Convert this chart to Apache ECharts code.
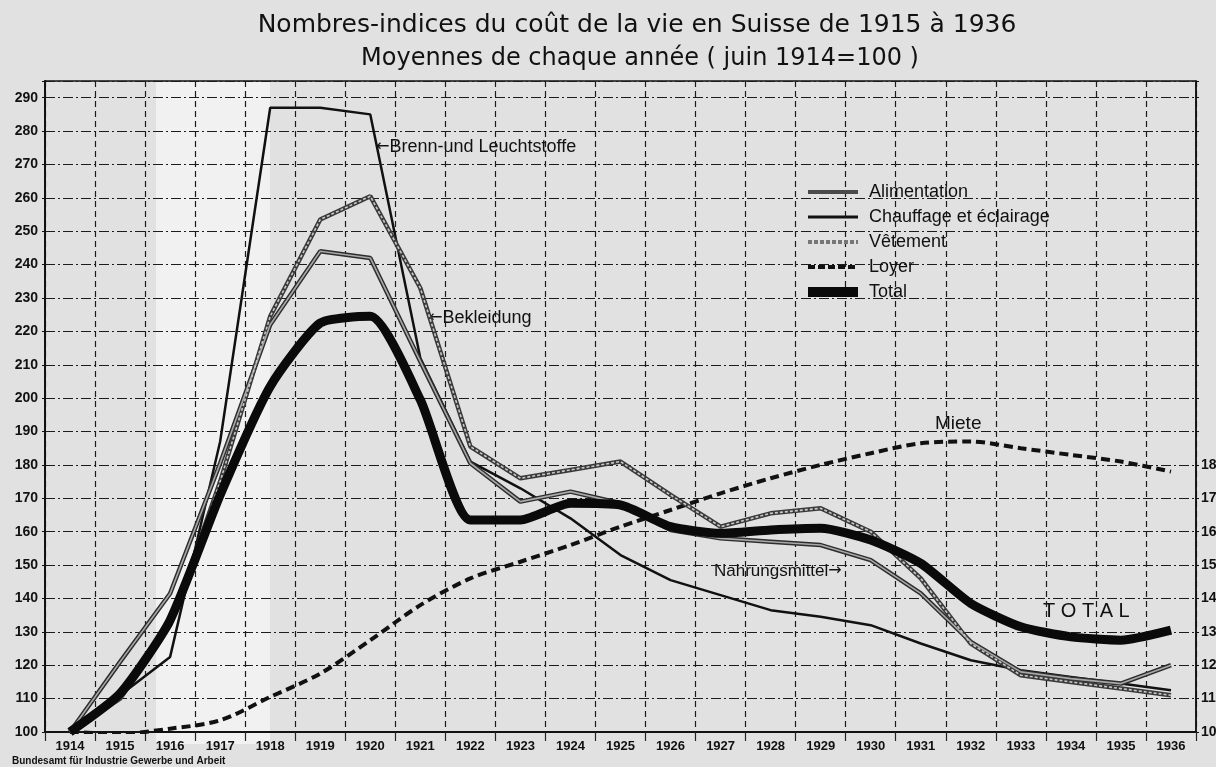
<!DOCTYPE html>
<html>
<head>
<meta charset="utf-8">
<script src="https://cdn.jsdelivr.net/npm/echarts@6/dist/echarts.min.js"></script>
<style>
html,body{margin:0;padding:0;background:#e1e1e1;}
#chart{width:1216px;height:767px;}
</style>
</head>
<body>
<div id="chart"></div>
<script>
// ---- data ----
const years = ['1914','1915','1916','1917','1918','1919','1920','1921','1922','1923','1924','1925','1926','1927','1928','1929','1930','1931','1932','1933','1934','1935','1936'];
const alimentation = [100, 121, 141.5, 180.5, 222, 244, 242, 211, 180.5, 169, 172, 168.5, 160.5, 158, 157, 156, 151.5, 141.5, 127, 118, 116, 114.5, 120];
const chauffage    = [100, 111, 122.5, 187, 287, 287, 285, 212, 181, 173, 164, 153, 145.5, 141, 136.5, 134.5, 132, 126.5, 121.5, 118.5, 116.5, 114.5, 112.5];
const vetement     = [100, 110, 132, 175, 224.5, 253.5, 260.5, 233, 185.5, 176, 178.5, 181, 171, 161.5, 165.5, 167, 160, 146, 126.5, 117, 115, 113, 111];
const loyer        = [100, 99.5, 101, 103.5, 110.5, 117.5, 127.5, 138, 146, 151, 156, 161.5, 166.5, 171.5, 176, 180, 183.5, 186.5, 187, 185, 183, 181, 178];
const total        = [100, 111.5, 133.5, 171, 203.5, 222.5, 224.5, 199.5, 163.5, 163.5, 168.5, 168, 161.5, 159.5, 160.5, 161, 157.5, 150.5, 138.5, 131.5, 128.5, 127.5, 130.5];
const legendNames = ['Alimentation', 'Chauffage et éclairage', 'Vêtement', 'Loyer', 'Total'];
const titleLines = ['Nombres-indices du coût de la vie en Suisse de 1915 à 1936', 'Moyennes de chaque année ( juin 1914=100 )'];
const sourceText = 'Bundesamt für Industrie Gewerbe und Arbeit';

const FONT = '"Liberation Sans", "DejaVu Sans", sans-serif';
const ARROW = { font: '16px "DejaVu Sans", sans-serif', fill: '#111' };
const chart = echarts.init(document.getElementById('chart'));

const option = {
  backgroundColor: '#e1e1e1',
  animation: false,
  grid: { left: 45, right: 20, top: 81, bottom: 35, containLabel: false, outerBoundsMode: 'none',
          show: true, borderColor: '#111', borderWidth: 1.5, backgroundColor: 'transparent' },
  legend: {
    data: [
      { name: legendNames[0], lineStyle: { color: '#4a4a4a', width: 4 } },
      { name: legendNames[1], lineStyle: { color: '#111', width: 3 } },
      { name: legendNames[2], lineStyle: { color: '#777', width: 4, type: [4, 2] } },
      { name: legendNames[3], lineStyle: { color: '#111', width: 4, type: [7, 3] } },
      { name: legendNames[4], lineStyle: { color: '#0a0a0a', width: 10 } }
    ],
    orient: 'vertical',
    left: 798, top: 178,
    itemWidth: 50, itemHeight: 12, itemGap: 7,
    itemStyle: { opacity: 0 },
    textStyle: { fontSize: 18, color: '#111', fontFamily: FONT, padding: [0, 0, 0, 6] },
    selectedMode: false
  },
  xAxis: {
    type: 'category', data: years, boundaryGap: true,
    axisLine: { lineStyle: { color: '#111', width: 2 } },
    axisTick: { show: true, length: 9, lineStyle: { color: '#222', width: 1.2 } },
    axisLabel: { color: '#111', fontFamily: FONT, fontWeight: 'bold', fontSize: 13, margin: 8, interval: 0 },
    splitLine: { show: true, interval: 0, lineStyle: { color: '#1c1c1c', width: 1.2, type: [6, 4] } }
  },
  yAxis: [{
    type: 'value', min: 100, max: 295, interval: 10,
    axisLine: { show: true, lineStyle: { color: '#111', width: 2 } },
    axisTick: { show: true, length: 3, lineStyle: { color: '#111' } },
    axisLabel: { color: '#111', fontFamily: FONT, fontWeight: 'bold', fontSize: 14, margin: 7,
      formatter: v => (v % 10 === 0 && v <= 290) ? String(v) : '' },
    splitLine: { show: true, lineStyle: { color: '#1c1c1c', width: 1.2, type: [10, 3, 2, 3] } }
  }, {
    type: 'value', position: 'right', min: 100, max: 295, interval: 10,
    axisLine: { show: true, lineStyle: { color: '#111', width: 1.5 } },
    axisTick: { show: true, length: 3, lineStyle: { color: '#111' } },
    axisLabel: { color: '#111', fontFamily: FONT, fontWeight: 'bold', fontSize: 14, margin: 5,
      formatter: v => (v % 10 === 0 && v <= 180) ? String(v) : '' },
    splitLine: { show: false }
  }],
  series: [
    { name: 'Loyer', type: 'line', data: loyer, symbol: 'none', smooth: 0.3, color: '#111',
      lineStyle: { color: '#111', width: 4, type: [9, 5] }, z: 3 },
    { name: 'Chauffage et éclairage', type: 'line', data: chauffage, symbol: 'none', color: '#111',
      lineStyle: { color: '#111', width: 2.5 }, z: 4 },
    { name: 'Alimentation', type: 'line', data: alimentation, symbol: 'none', color: '#2e2e2e',
      lineStyle: { color: '#2e2e2e', width: 4.5 }, z: 5 },
    { name: 'alim-core', type: 'line', data: alimentation, symbol: 'none', silent: true, color: '#a8a8a8',
      lineStyle: { color: '#a8a8a8', width: 1.6 }, z: 6 },
    { name: 'Vêtement', type: 'line', data: vetement, symbol: 'none', color: '#3a3a3a',
      lineStyle: { color: '#3a3a3a', width: 4.5 }, z: 5 },
    { name: 'vet-core', type: 'line', data: vetement, symbol: 'none', silent: true, color: '#c8c8c8',
      lineStyle: { color: '#c8c8c8', width: 1.6, type: [3, 2] }, z: 6 },
    { name: 'Total', type: 'line', data: total, symbol: 'none', smooth: 0.2, color: '#0a0a0a',
      lineStyle: { color: '#0a0a0a', width: 9 }, z: 7 }
  ],
  graphic: [
    { type: 'rect', z: -100, silent: true, shape: { x: 156, y: 82, width: 114, height: 662 }, style: { fill: '#f1f1f1' } },
    { type: 'text', x: 637, y: 25, style: { text: titleLines[0], font: '25px "DejaVu Sans", sans-serif', fill: '#111', align: 'center', verticalAlign: 'middle' } },
    { type: 'text', x: 640, y: 59, style: { text: titleLines[1], font: '24px "DejaVu Sans", sans-serif', fill: '#111', align: 'center', verticalAlign: 'middle' } },
    { type: 'text', x: 12, y: 761, style: { text: sourceText, font: 'bold 10px ' + FONT, fill: '#111', align: 'left', verticalAlign: 'middle' } },
    { type: 'text', x: 376, y: 147, style: { text: '{a|←}Brenn-und Leuchtstoffe', font: '18px ' + FONT, fill: '#111', align: 'left', verticalAlign: 'middle', rich: { a: ARROW } } },
    { type: 'text', x: 429, y: 318, style: { text: '{a|←}Bekleidung', font: '18px ' + FONT, fill: '#111', align: 'left', verticalAlign: 'middle', rich: { a: ARROW } } },
    { type: 'text', x: 935, y: 424, style: { text: 'Miete', font: '19px ' + FONT, fill: '#111', align: 'left', verticalAlign: 'middle' } },
    { type: 'text', x: 714, y: 571, style: { text: 'Nahrungsmittel{a|→}', font: '17px ' + FONT, fill: '#111', align: 'left', verticalAlign: 'middle', rich: { a: ARROW } } },
    { type: 'text', x: 1043, y: 611, style: { text: 'T O T A L', font: '20px ' + FONT, fill: '#111', align: 'left', verticalAlign: 'middle' } }
  ]
};
chart.setOption(option);
</script>
</body>
</html>
